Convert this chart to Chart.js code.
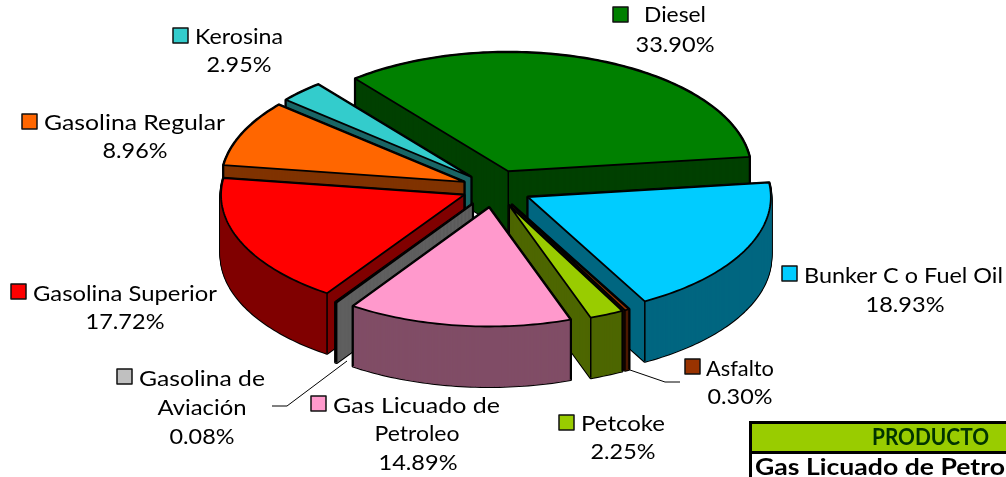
<!DOCTYPE html>
<html><head><meta charset="utf-8">
<script src="https://cdn.jsdelivr.net/npm/chart.js@4"></script>
<style>html,body{margin:0;padding:0;background:#fff}canvas{display:block}</style>
</head><body><canvas id="c" width="1006" height="477"></canvas>
<script>
const categories = ['Diesel','Bunker C o Fuel Oil','Asfalto','Petcoke','Gas Licuado de Petroleo','Gasolina de Aviación','Gasolina Superior','Gasolina Regular','Kerosina'];
const values = [33.90,18.93,0.30,2.25,14.89,0.08,17.72,8.96,2.95];
const colors = ['#008000','#00CCFF','#993300','#99CC00','#FF99CC','#C0C0C0','#FF0000','#FF6600','#33CCCC'];
const wallColors = ['#004000','#006680','#4D1A00','#4D6600','#804D66','#606060','#800000','#803300','#1A6666'];
const explode = [36,36,36,36,37,36,31,31,31];
const tableHeader = 'PRODUCTO';
const tableRow = 'Gas Licuado de Petro';

// layout of each label: key box x,y; text lines [text left or centre, baseline mid y]
const labelLayout = [
 {key:[613,7],  lines:[['Diesel',644,15,'l',62],[null,675,45,'c',79]]},
 {key:[782,266],lines:[['Bunker C o Fuel Oil',804,276,'l',199],[null,905,305,'c',79]]},
 {key:[685,359],lines:[['Asfalto',706,369,'l',68],[null,740,397,'c',65]]},
 {key:[559,415],lines:[['Petcoke',581,424,'l',84],[null,623,452,'c',65]]},
 {key:[311,396],lines:[['Gas Licuado de',333,406,'l',167],['Petroleo',417,434,'c',85],[null,418,463,'c',79]]},
 {key:[117,369],lines:[['Gasolina de',139,379,'l',126],['Aviación',202,408,'c',89],[null,202,437,'c',65]]},
 {key:[11,284], lines:[['Gasolina Superior',33,294,'l',184],[null,125,322,'c',79]]},
 {key:[22,114], lines:[['Gasolina Regular',44,123,'l',181],[null,135,151,'c',65]]},
 {key:[173,28], lines:[['Kerosina',195,37,'l',88],[null,239,65,'c',65]]}
];
const CENTER = {x:494,y:188.5}, RX = 243, RY = 119, DEPTH = 60, FONT = '22px Lato';

function fitText(ctx,t,x,y,mode,w){
  const m = ctx.measureText(t).width;
  ctx.save();
  ctx.translate(mode==='c'? x-w/2 : x, y);
  ctx.scale(w/m,1);
  ctx.textAlign='left';ctx.textBaseline='middle';
  ctx.fillText(t,0,0);
  ctx.restore();
}

const pie3d = {
  id:'pie3d',
  beforeDatasetsDraw(chart){
    const ctx = chart.ctx;
    const arcs = chart.getDatasetMeta(0).data;
    const items = arcs.map((arc,i)=>{
      const mid=(arc.startAngle+arc.endAngle)/2;
      const k=RX/arc.outerRadius, q=RY/arc.outerRadius;
      const ox=CENTER.x+Math.cos(mid)*explode[i]*k, oy=CENTER.y+Math.sin(mid)*explode[i]*q;
      const pts=[[ox,oy]];
      const n=Math.max(2,Math.ceil((arc.endAngle-arc.startAngle)/0.02));
      for(let j=0;j<=n;j++){
        const a=arc.startAngle+(arc.endAngle-arc.startAngle)*j/n;
        pts.push([ox+Math.cos(a)*RX,oy+Math.sin(a)*RY]);
      }
      return {arc,i,mid,ox,oy,pts};
    }).sort((a,b)=>Math.sin(a.mid)-Math.sin(b.mid));
    const poly=(pts,dy)=>{const p=new Path2D();pts.forEach((q,j)=>j?p.lineTo(q[0],q[1]+dy):p.moveTo(q[0],q[1]+dy));p.closePath();return p;};
    for(const it of items){
      const top=poly(it.pts,0);
      ctx.lineJoin='round';
      // wall: black silhouette first, then solid fill swept over the depth
      ctx.strokeStyle='#000';ctx.lineWidth=3;
      for(let d=DEPTH;d>=0;d-=1)ctx.stroke(poly(it.pts,d));
      ctx.fillStyle=wallColors[it.i];ctx.strokeStyle=wallColors[it.i];ctx.lineWidth=1;
      for(let d=DEPTH;d>=0;d-=1){const p=poly(it.pts,d);ctx.fill(p);ctx.stroke(p);}
      // visible vertical edges
      const corners=[it.pts[0],it.pts[1],it.pts[it.pts.length-1]];
      ctx.strokeStyle='#000';ctx.lineWidth=1.5;
      for(const c of corners){
        if(ctx.isPointInPath(top,c[0],c[1]+3))continue;
        ctx.beginPath();ctx.moveTo(c[0],c[1]);ctx.lineTo(c[0],c[1]+DEPTH);ctx.stroke();
      }
      // top face through the library's arc element
      ctx.save();
      ctx.translate(it.ox,it.oy);
      ctx.scale(RX/it.arc.outerRadius,RY/it.arc.outerRadius);
      ctx.translate(-it.arc.x,-it.arc.y);
      it.arc.draw(ctx);
      ctx.restore();
      ctx.lineWidth=1.8;ctx.strokeStyle='#000';
      ctx.stroke(top);
    }
    return false;
  },
  afterDraw(chart){
    const ctx=chart.ctx;
    ctx.save();
    ctx.font=FONT;
    labelLayout.forEach((l,i)=>{
      ctx.fillStyle=colors[i];ctx.strokeStyle='#111';ctx.lineWidth=1.5;
      ctx.fillRect(l.key[0],l.key[1],15,15);ctx.strokeRect(l.key[0],l.key[1],15,15);
      ctx.fillStyle='#000';
      l.lines.forEach(t=>{
        const s=t[0]===null? values[i].toFixed(2)+'%' : t[0];
        fitText(ctx,s,t[1],t[2],t[3],t[4]);
      });
    });
    // leader lines
    ctx.strokeStyle='#000';ctx.lineWidth=1;
    ctx.beginPath();ctx.moveTo(272,406);ctx.lineTo(287,406);ctx.lineTo(347,361);ctx.stroke();
    ctx.beginPath();ctx.moveTo(630,370);ctx.lineTo(665,382);ctx.lineTo(680,382);ctx.stroke();
    // table fragment
    ctx.fillStyle='#99CC00';ctx.fillRect(750,423,256,30);
    ctx.fillStyle='#000';ctx.fillRect(749,421,257,3);ctx.fillRect(749,451,257,3);ctx.fillRect(749,421,3,56);
    ctx.font='bold 23px Lato';
    ctx.fillStyle='#003300';fitText(ctx,tableHeader,872,438,'l',117);
    ctx.fillStyle='#000';fitText(ctx,tableRow,755,468,'l',250);
    ctx.restore();
  }
};

new Chart(document.getElementById('c'),{
  type:'pie',
  data:{labels:categories,datasets:[{data:values,backgroundColor:colors,borderWidth:0}]},
  options:{
    responsive:false,animation:false,rotation:-39,radius:230,
    layout:{padding:0},
    plugins:{legend:{display:false},tooltip:{enabled:false}}
  },
  plugins:[pie3d]
});
</script></body></html>
